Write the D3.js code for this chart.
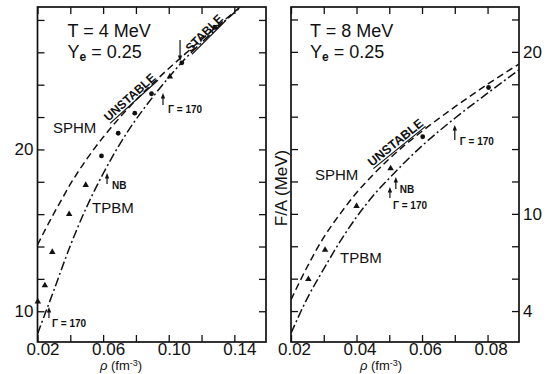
<!DOCTYPE html>
<html>
<head>
<meta charset="utf-8">
<script src="https://cdn.jsdelivr.net/npm/d3@7"></script>
<style>
    body { margin: 0; background: #fff; }
    svg text { font-family: "Liberation Sans", Arial, Helvetica, sans-serif; fill: #111; }
</style>
</head>
<body>
<svg id="chart" width="549" height="374"></svg>
<script>
// ---- data (rho in fm^-3, F/A in MeV) ----
// T = 4 MeV panel
const rhoLeft = [0.02, 0.025, 0.03, 0.035, 0.04, 0.045, 0.05, 0.06, 0.07, 0.08, 0.09, 0.10, 0.11, 0.12, 0.13, 0.14, 0.15];
const sphmLeft = [14.1, 15.1, 16.05, 16.95, 17.85, 18.65, 19.4, 20.75, 21.95, 23.05, 24.05, 25.0, 25.9, 26.8, 27.65, 28.5, 29.35];
const tpbmLeft = [8.6, 9.95, 11.3, 12.7, 14.05, 15.3, 16.45, 18.5, 20.3, 21.85, 23.2, 24.45, 25.6, 26.6, 27.55, 28.45, 29.3];
const triRhoLeft = [0.0202, 0.0245, 0.029, 0.0393, 0.0494, 0.1007];
const triValLeft = [10.6, 11.6, 13.66, 16.0, 17.8, 24.5];
const dotRhoLeft = [0.059, 0.0692, 0.0793, 0.0895, 0.108, 0.128];
const dotValLeft = [19.6, 21.0, 22.24, 23.44, 25.35, 27.55];

// T = 8 MeV panel
const rhoRight = [0.02, 0.025, 0.03, 0.035, 0.04, 0.045, 0.05, 0.06, 0.07, 0.08, 0.09];
const sphmRight = [4.7, 6.75, 8.55, 10.0, 11.3, 12.4, 13.4, 15.1, 16.6, 18.0, 19.3];
const tpbmRight = [2.64, 4.8, 6.6, 8.3, 9.8, 11.1, 12.2, 14.2, 15.9, 17.45, 18.95];
const triRhoRight = [0.0253, 0.0304, 0.040, 0.0504];
const triValRight = [5.97, 7.77, 10.48, 12.8];
const dotRhoRight = [0.0602, 0.0803];
const dotValRight = [14.76, 17.8];

// ticks and tick labels
const xTicksLeft = [0.02, 0.04, 0.06, 0.08, 0.10, 0.12, 0.14];
const xLabelsLeft = ['0.02', '', '0.06', '', '0.10', '', '0.14'];
const yTicksLeft = [10, 12, 14, 16, 18, 20, 22, 24, 26, 28];
const yLabelsLeft = ['10', '', '', '', '', '20', '', '', '', ''];
const xTicksRight = [0.02, 0.03, 0.04, 0.05, 0.06, 0.07, 0.08];
const xLabelsRight = ['0.02', '', '0.04', '', '0.06', '', '0.08'];
const yTicksRight = [4, 6, 8, 10, 12, 14, 16, 18, 20, 22];
const yLabelsRight = ['4', '', '', '10', '', '', '', '', '20', ''];

// arrows: [rho, tail value, tip value, label, label dx, label dy]
const arrowsLeft = [
    [0.0965, 22.75, 23.49, 'Γ = 170', 5, 8.5],
    [0.0624, 17.86, 18.54, 'NB', 5, 5],
    [0.027, 9.58, 10.26, 'Γ = 170', 3, 9],
    [0.1069, 26.76, 25.46, '', 0, 0]
];
const arrowsRight = [
    [0.052, 11.53, 12.28, 'NB', 4, 3.5],
    [0.0502, 10.98, 11.66, 'Γ = 170', 3, 11.5],
    [0.070, 14.56, 15.49, 'Γ = 170', 5, 5.5]
];
// slanted underlined labels: [rho, value, angle, text, size, lift off the curve]
const slantLeft = [[0.0776, 23.08, -42, 'UNSTABLE', 12, 3.5], [0.1215, 27.19, -45, 'STABLE', 12, 0]];
const slantRight = [[0.0525, 14.25, -39, 'UNSTABLE', 12.5, 3.5]];

const svg = d3.select('#chart');
const ink = '#111';

function arrow(g, px, yTail, yTip) {
    const dir = yTip < yTail ? 1 : -1;
    g.append('line')
        .attr('x1', px).attr('x2', px)
        .attr('y1', yTail).attr('y2', yTip + dir * 3)
        .attr('stroke', ink).attr('stroke-width', 1.2);
    g.append('path')
        .attr('d', `M${px},${yTip} L${px - 2.2},${yTip + dir * 5.5} L${px + 2.2},${yTip + dir * 5.5} Z`)
        .attr('fill', ink);
}

function drawPanel(cfg) {
    const x = d3.scaleLinear().domain(cfg.xDomain).range([cfg.x0, cfg.x1]);
    const y = d3.scaleLinear().domain(cfg.yDomain).range([cfg.y1, cfg.y0]);
    const g = svg.append('g');

    svg.append('clipPath').attr('id', 'clip-' + cfg.id)
        .append('rect')
        .attr('x', cfg.x0).attr('y', cfg.y0)
        .attr('width', cfg.x1 - cfg.x0).attr('height', cfg.y1 - cfg.y0);

    const fmt = (ticks, labels) => d => labels[ticks.indexOf(d)];
    const none = () => '';

    // axes with inward ticks on all four sides
    const axes = [
        [d3.axisBottom(x).tickValues(cfg.xTicks).tickFormat(fmt(cfg.xTicks, cfg.xLabels)).tickPadding(1), `translate(0,${cfg.y1})`, true],
        [d3.axisTop(x).tickValues(cfg.xTicks).tickFormat(none), `translate(0,${cfg.y0})`, false],
        [d3.axisLeft(y).tickValues(cfg.yTicks).tickFormat(cfg.yLabelSide === 'left' ? fmt(cfg.yTicks, cfg.yLabels) : none).tickPadding(4), `translate(${cfg.x0},0)`, false],
        [d3.axisRight(y).tickValues(cfg.yTicks).tickFormat(cfg.yLabelSide === 'right' ? fmt(cfg.yTicks, cfg.yLabels) : none).tickPadding(4), `translate(${cfg.x1},0)`, false]
    ];
    axes.forEach(([ax, tr, isBottom]) => {
        const a = g.append('g').attr('transform', tr)
            .call(ax.tickSizeInner(-7).tickSizeOuter(0));
        a.attr('font-family', null).attr('font-size', null);
        a.select('.domain').remove();
        a.selectAll('.tick line').attr('stroke', ink).attr('stroke-width', 1.3);
        a.selectAll('.tick text').attr('fill', ink).style('font-size', '17px');
        // printed labels sit a little right of their ticks
        if (isBottom) a.selectAll('.tick text').attr('dx', cfg.xLabelDx);
    });

    // frame
    g.append('rect')
        .attr('x', cfg.x0).attr('y', cfg.y0)
        .attr('width', cfg.x1 - cfg.x0).attr('height', cfg.y1 - cfg.y0)
        .attr('fill', 'none').attr('stroke', ink).attr('stroke-width', 1.7);

    // curves
    const line = d3.line()
        .x(d => x(d[0]))
        .y(d => y(d[1]))
        .curve(d3.curveMonotoneX);
    const curves = [
        [d3.zip(cfg.rho, cfg.sphm), '7,4'],
        [d3.zip(cfg.rho, cfg.tpbm), '9,3,2,3']
    ];
    curves.forEach(([pts, dash]) => {
        g.append('path')
            .attr('d', line(pts))
            .attr('clip-path', `url(#clip-${cfg.id})`)
            .attr('fill', 'none')
            .attr('stroke', ink)
            .attr('stroke-width', 1.5)
            .attr('stroke-dasharray', dash);
    });

    // data markers
    g.selectAll('.tri')
        .data(d3.zip(cfg.triRho, cfg.triVal))
        .join('path')
        .attr('transform', d => `translate(${x(d[0])},${y(d[1])})`)
        .attr('d', d3.symbol().type(d3.symbolTriangle).size(18))
        .attr('fill', ink);
    g.selectAll('.dot')
        .data(d3.zip(cfg.dotRho, cfg.dotVal))
        .join('circle')
        .attr('cx', d => x(d[0]))
        .attr('cy', d => y(d[1]))
        .attr('r', 2.4)
        .attr('fill', ink);

    // titles
    g.append('text').attr('x', cfg.x0 + cfg.titleDx).attr('y', 37)
        .style('font-size', '18px').text(cfg.title);
    const ye = g.append('text').attr('x', cfg.x0 + cfg.titleDx).attr('y', 57.5)
        .style('font-size', '18px');
    ye.append('tspan').text('Y');
    ye.append('tspan').attr('dy', 3).style('font-size', '12px').style('font-weight', 'bold').text('e');
    ye.append('tspan').attr('dy', -3).text(' = 0.25');

    g.append('text').attr('x', cfg.sphmPos[0]).attr('y', cfg.sphmPos[1])
        .style('font-size', '15px').text('SPHM');
    g.append('text').attr('x', cfg.tpbmPos[0]).attr('y', cfg.tpbmPos[1])
        .style('font-size', '15px').text('TPBM');

    // arrows with their labels
    cfg.arrows.forEach(([r, tail, tip, label, dx, dy]) => {
        arrow(g, x(r), y(tail), y(tip));
        if (label) {
            g.append('text')
                .attr('x', x(r) + dx).attr('y', y(tail) + dy)
                .style('font-size', '10px').style('font-weight', 'bold')
                .text(label);
        }
    });

    // slanted underlined labels
    cfg.slant.forEach(([r, v, angle, label, size, lift]) => {
        const t = g.append('g').attr('transform', `translate(${x(r)},${y(v)}) rotate(${angle})`);
        const base = size * 0.36 - lift;
        const txt = t.append('text')
            .attr('text-anchor', 'middle')
            .attr('y', base)
            .style('font-size', size + 'px').style('font-weight', 'bold')
            .text(label);
        const w = txt.node().getComputedTextLength();
        t.append('line')
            .attr('x1', -w / 2).attr('x2', w / 2)
            .attr('y1', base + 2.2).attr('y2', base + 2.2)
            .attr('stroke', ink).attr('stroke-width', 1.2);
    });

    // x axis title
    const xt = g.append('text')
        .attr('x', cfg.xTitleX).attr('y', 370)
        .attr('text-anchor', 'middle')
        .style('font-size', '13px');
    xt.append('tspan').style('font-style', 'italic').text('ρ');
    xt.append('tspan').text(' (fm');
    xt.append('tspan').attr('dy', -4).style('font-size', '9px').text('-3');
    xt.append('tspan').attr('dy', 4).text(')');
}

drawPanel({
    id: 'left', x0: 37.5, x1: 266, y0: 7, y1: 342,
    xDomain: [0.02, 0.1593], yDomain: [8.1, 28.8],
    xTicks: xTicksLeft, xLabels: xLabelsLeft, xLabelDx: 5,
    yTicks: yTicksLeft, yLabels: yLabelsLeft, yLabelSide: 'left',
    rho: rhoLeft, sphm: sphmLeft, tpbm: tpbmLeft,
    triRho: triRhoLeft, triVal: triValLeft, dotRho: dotRhoLeft, dotVal: dotValLeft,
    title: 'T = 4 MeV', titleDx: 30,
    sphmPos: [53, 133], tpbmPos: [92, 213],
    arrows: arrowsLeft, slant: slantLeft, xTitleX: 121
});

drawPanel({
    id: 'right', x0: 291, x1: 519, y0: 7, y1: 342,
    xDomain: [0.02, 0.0896], yDomain: [2.09, 22.77],
    xTicks: xTicksRight, xLabels: xLabelsRight, xLabelDx: 3,
    yTicks: yTicksRight, yLabels: yLabelsRight, yLabelSide: 'right',
    rho: rhoRight, sphm: sphmRight, tpbm: tpbmRight,
    triRho: triRhoRight, triVal: triValRight, dotRho: dotRhoRight, dotVal: dotValRight,
    title: 'T = 8 MeV', titleDx: 19,
    sphmPos: [315, 180], tpbmPos: [340, 263],
    arrows: arrowsRight, slant: slantRight, xTitleX: 381
});

// shared y axis title between the panels
svg.append('text')
    .attr('transform', 'translate(287,188) rotate(-90)')
    .attr('text-anchor', 'middle')
    .style('font-size', '17px')
    .text('F/A (MeV)');
</script>
</body>
</html>
